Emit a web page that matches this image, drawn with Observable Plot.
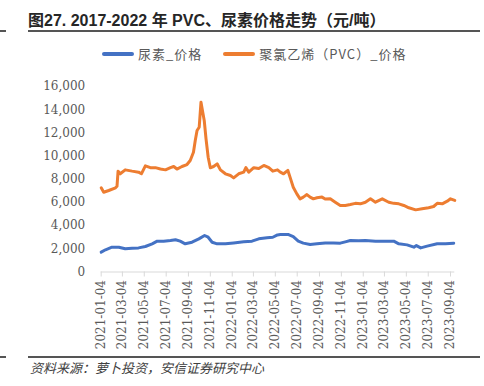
<!DOCTYPE html>
<html><head><meta charset="utf-8">
<script src="https://cdn.jsdelivr.net/npm/d3@7"></script>
<script src="https://cdn.jsdelivr.net/npm/@observablehq/plot@0.6"></script>
<style>
html,body{margin:0;padding:0;background:#fff;}
#wrap{position:relative;width:484px;height:386px;overflow:hidden;font-family:"Noto Sans CJK SC","Liberation Sans",sans-serif;}
.abs{position:absolute;}
#title{left:28px;top:7px;font-size:16px;font-weight:bold;color:#262626;white-space:nowrap;font-family:"Liberation Sans","Noto Sans CJK SC",sans-serif;}
.rule{height:2px;background:#555;}
#legend{top:44px;left:102px;font-size:13px;letter-spacing:1px;color:#595959;white-space:nowrap;display:flex;align-items:center;}
.sw{display:inline-block;width:32px;height:4px;border-radius:2px;margin-right:4px;}
#foot{left:30px;top:358px;font-size:13px;font-style:italic;color:#404040;white-space:nowrap;}
#chart{left:0;top:66px;width:484px;height:290px;line-height:0;}
#chart svg{display:block;}
#chart svg text{font-family:"DejaVu Serif","Liberation Serif",serif !important;}
</style></head>
<body><div id="wrap">
<div id="title" class="abs">图27. 2017-2022 年 PVC、尿素价格走势（元/吨）</div>
<div class="abs rule" style="left:28px;top:30px;width:452px;"></div>
<div class="abs rule" style="left:0;top:30px;width:6px;"></div>
<div id="legend" class="abs"><span class="sw" style="background:#4472C4"></span><span>尿素_价格</span><span style="display:inline-block;width:21px"></span><span class="sw" style="background:#ED7D31"></span><span>聚氯乙烯（PVC）_价格</span></div>
<div id="chart" class="abs"></div>
<div class="abs rule" style="left:28px;top:356px;width:452px;"></div>
<div class="abs rule" style="left:0;top:356px;width:6px;"></div>
<div id="foot" class="abs">资料来源：萝卜投资，安信证券研究中心</div>
</div>
<script>
const seriesNames = ["尿素_价格", "聚氯乙烯（PVC）_价格"];
const seriesColors = ["#4472C4", "#ED7D31"];

const ureaDates = ["2021-01-04","2021-01-16","2021-02-03","2021-02-22","2021-03-12","2021-03-31","2021-04-18","2021-05-07","2021-05-26","2021-06-09","2021-06-27","2021-07-16","2021-07-30","2021-08-12","2021-08-26","2021-09-14","2021-10-03","2021-10-19","2021-10-29","2021-11-09","2021-11-23","2021-12-16","2022-01-08","2022-02-05","2022-02-28","2022-03-19","2022-04-11","2022-04-27","2022-05-10","2022-05-18","2022-06-10","2022-06-23","2022-07-07","2022-07-21","2022-08-09","2022-08-28","2022-09-20","2022-10-13","2022-11-01","2022-11-15","2022-11-29","2022-12-22","2023-01-10","2023-02-07","2023-03-06","2023-03-30","2023-04-13","2023-05-06","2023-05-25","2023-06-01","2023-06-13","2023-07-01","2023-07-29","2023-08-21","2023-09-13"];
const ureaValues = [1710,1915,2140,2140,2000,2050,2080,2200,2430,2660,2660,2720,2780,2660,2430,2570,2860,3150,3000,2570,2430,2430,2510,2600,2660,2860,2950,3000,3200,3230,3230,3060,2660,2490,2370,2430,2510,2510,2490,2600,2720,2690,2720,2660,2660,2660,2430,2340,2140,2280,2080,2230,2430,2430,2490];

const pvcDates = ["2021-01-04","2021-01-11","2021-01-25","2021-02-13","2021-02-17","2021-02-20","2021-02-26","2021-03-12","2021-03-31","2021-04-18","2021-04-26","2021-05-07","2021-05-21","2021-06-04","2021-06-18","2021-07-02","2021-07-16","2021-07-25","2021-08-03","2021-08-17","2021-08-31","2021-09-09","2021-09-18","2021-09-23","2021-09-28","2021-10-04","2021-10-09","2021-10-13","2021-10-18","2021-10-23","2021-10-29","2021-11-04","2021-11-13","2021-11-23","2021-12-02","2021-12-16","2021-12-30","2022-01-08","2022-01-22","2022-02-05","2022-02-11","2022-02-19","2022-03-05","2022-03-19","2022-04-02","2022-04-16","2022-04-27","2022-05-10","2022-05-18","2022-05-27","2022-06-08","2022-06-14","2022-06-23","2022-07-03","2022-07-12","2022-07-21","2022-07-31","2022-08-09","2022-08-18","2022-08-28","2022-09-11","2022-09-20","2022-10-04","2022-10-18","2022-11-01","2022-11-15","2022-11-29","2022-12-13","2022-12-27","2023-01-10","2023-01-24","2023-02-07","2023-02-26","2023-03-16","2023-03-30","2023-04-13","2023-04-27","2023-05-11","2023-05-30","2023-06-17","2023-07-05","2023-07-19","2023-07-29","2023-08-12","2023-08-26","2023-09-04","2023-09-16"];
const pvcValues = [7260,6880,7030,7260,7390,8700,8470,8810,8700,8610,8470,9160,9000,9000,8880,8810,9000,9100,8880,9100,9270,9620,10330,11340,12200,12490,14650,13930,13070,11490,9900,8990,9100,9330,8810,8470,8320,8120,8470,8610,9000,8610,9000,8930,9190,9000,8700,8810,8610,8470,8760,8180,7310,6740,6310,6460,6680,6460,6310,6400,6460,6290,6310,6020,5740,5740,5820,5920,5880,6020,6310,6020,6310,6020,5920,5880,5740,5540,5360,5450,5540,5650,5920,5880,6110,6310,6170];

const xTickLabels = ["2021-01-04","2021-03-04","2021-05-04","2021-07-04","2021-09-04","2021-11-04","2022-01-04","2022-03-04","2022-05-04","2022-07-04","2022-09-04","2022-11-04","2023-01-04","2023-03-04","2023-05-04","2023-07-04","2023-09-04"];
const yTicks = [0,2000,4000,6000,8000,10000,12000,14000,16000];

const parse = d3.utcParse("%Y-%m-%d");
const rows = [];
ureaDates.forEach((d,i)=>rows.push({date:parse(d), value:ureaValues[i], series:seriesNames[0]}));
pvcDates.forEach((d,i)=>rows.push({date:parse(d), value:pvcValues[i], series:seriesNames[1]}));

const serif = "DejaVu Serif";
const chart = Plot.plot({
  width: 484, height: 290,
  marginLeft: 100.7, marginRight: 29.7, marginTop: 20, marginBottom: 84.5,
  style: {fontFamily: serif, fontSize: "12px", color: "#595959", background: "transparent"},
  x: {type: "utc", domain: [parse("2021-01-04"), parse("2023-09-16")]},
  y: {domain: [0, 16000]},
  color: {domain: seriesNames, range: seriesColors},
  marks: [
    Plot.ruleY([0], {stroke: "#d9d9d9", strokeWidth: 1}),
    Plot.axisY({ticks: yTicks, tickSize: 0, tickPadding: 16, tickFormat: d3.format(","), label: null, fontSize: 12, fontFamily: serif}),
    Plot.axisX({ticks: xTickLabels.map(parse), tickSize: 5, tickPadding: 3, tickRotate: -90, tickFormat: d3.utcFormat("%Y-%m-%d"), label: null, stroke: "#d9d9d9", fontSize: 12, fontFamily: serif}),
    Plot.line(rows, {x: "date", y: "value", z: "series", stroke: "series", strokeWidth: 3, strokeLinejoin: "round", strokeLinecap: "round"})
  ]
});
document.getElementById("chart").appendChild(chart);
</script>
</body></html>
